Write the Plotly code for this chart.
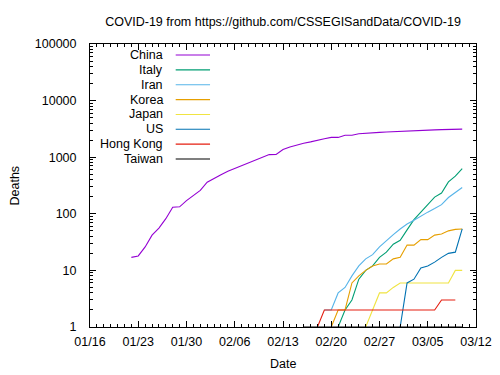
import plotly.graph_objects as go
import pandas as pd

# ---- data ----
series_names = ["China", "Italy", "Iran", "Korea", "Japan", "US", "Hong Kong", "Taiwan"]
series_colors = ["#9400D3", "#009E73", "#56B4E9", "#E69F00", "#F0E442", "#0072B2", "#E51E10", "#000000"]

china_start = "2020-01-22"
china = [17, 18, 26, 42, 56, 82, 131, 133, 171, 213, 259, 361, 425, 490, 562, 632, 717, 804,
         904, 1011, 1111, 1116, 1368, 1520, 1662, 1765, 1863, 2002, 2114, 2236, 2236, 2441,
         2443, 2593, 2663, 2715, 2744, 2788, 2835, 2870, 2912, 2943, 2981, 3013, 3042, 3070,
         3097, 3119, 3136]
italy_start = "2020-02-21"
italy = [1, 2, 3, 7, 10, 12, 17, 21, 29, 34, 52, 79, 107, 148, 197, 233, 366, 463, 631]
iran_start = "2020-02-19"
iran = [2, 2, 4, 5, 8, 12, 16, 19, 26, 34, 43, 54, 66, 77, 92, 107, 124, 145, 194, 237, 291]
korea_start = "2020-02-20"
korea = [1, 2, 2, 6, 8, 10, 12, 13, 13, 16, 17, 28, 28, 35, 35, 42, 44, 50, 53, 54]
japan_start = "2020-02-25"
japan = [1, 2, 4, 4, 5, 6, 6, 6, 6, 6, 6, 6, 6, 10, 10]
us_start = "2020-03-01"
us = [1, 6, 7, 11, 12, 14, 17, 20, 21, 54]
hongkong_start = "2020-02-18"
hongkong = [1, 2, 2, 2, 2, 2, 2, 2, 2, 2, 2, 2, 2, 2, 2, 2, 2, 2, 3, 3, 3]
taiwan_start = "2020-02-16"
taiwan = [1] * 24

series_starts = [china_start, italy_start, iran_start, korea_start, japan_start,
                 us_start, hongkong_start, taiwan_start]
series_values = [china, italy, iran, korea, japan, us, hongkong, taiwan]

x_range = ["2020-01-16", "2020-03-12"]
y_tickvals = [1, 10, 100, 1000, 10000, 100000]
y_ticktext = ["1", "10", "100", "1000", "10000", "100000"]

title_text = "COVID-19 from https://github.com/CSSEGISandData/COVID-19"
x_title = "Date"
y_title = "Deaths"

FONT = "Liberation Sans, Arial, sans-serif"
FS = 12.5

# the page body has an 8px margin, so the figure sits at (8, 8)
OFF = 8

fig = go.Figure()
for name, color, start, vals in zip(series_names, series_colors, series_starts, series_values):
    dates = pd.date_range(start, periods=len(vals), freq="D")
    fig.add_trace(go.Scatter(x=dates, y=vals, mode="lines", name=name,
                             line=dict(color=color, width=1.1), showlegend=False))

# custom gnuplot-style legend (text right-aligned, sample line on the right)
row0 = (327 - 55) / 283
drow = 14.86 / 283
for i, (name, color) in enumerate(zip(series_names, series_colors)):
    yy = row0 - i * drow
    fig.add_annotation(xref="paper", yref="paper", x=0.194, y=yy, text=name,
                       showarrow=False, xanchor="right", yanchor="middle",
                       font=dict(family=FONT, size=FS, color="black"))
    fig.add_shape(type="line", xref="paper", yref="paper", x0=0.222, x1=0.311,
                  y0=yy, y1=yy, line=dict(color=color, width=1.1))

# axis titles
fig.add_annotation(xref="paper", yref="paper", x=-76 / 386, y=0.5, text=y_title,
                   textangle=-90, showarrow=False, xanchor="center", yanchor="middle",
                   font=dict(family=FONT, size=FS, color="black"))
fig.add_annotation(xref="paper", yref="paper", x=0.5, y=-(364 - 327) / 283, text=x_title,
                   showarrow=False, xanchor="center", yanchor="middle",
                   font=dict(family=FONT, size=FS, color="black"))

fig.update_layout(
    width=500, height=375,
    margin=dict(l=90 - OFF, r=24 + OFF, t=44 - OFF, b=48 + OFF),
    paper_bgcolor="white", plot_bgcolor="white",
    font=dict(family=FONT, size=FS, color="black"),
    title=dict(text=title_text, x=0.5, xref="paper", xanchor="center",
               y=1 - (22 - OFF) / 375, yref="container", yanchor="middle",
               font=dict(family=FONT, size=FS, color="black")),
)
fig.update_xaxes(
    type="date", range=x_range, tickformat="%m/%d",
    tick0="2020-01-16", dtick=7 * 86400000,
    ticks="inside", ticklen=6, tickcolor="black", tickwidth=1,
    showline=True, linecolor="black", linewidth=1, mirror="ticks",
    showgrid=False, zeroline=False, ticklabelstandoff=3,
    minor=dict(ticks="inside", ticklen=3, dtick=86400000, tickcolor="black", showgrid=False),
)
fig.update_yaxes(
    type="log", range=[0, 5], tickvals=y_tickvals, ticktext=y_ticktext,
    ticks="inside", ticklen=6, tickcolor="black", tickwidth=1,
    showline=True, linecolor="black", linewidth=1, mirror="ticks",
    showgrid=False, zeroline=False, ticklabelstandoff=10,
    minor=dict(ticks="inside", ticklen=3, dtick="D1", tickcolor="black", showgrid=False),
)

fig.write_html("out.html")
